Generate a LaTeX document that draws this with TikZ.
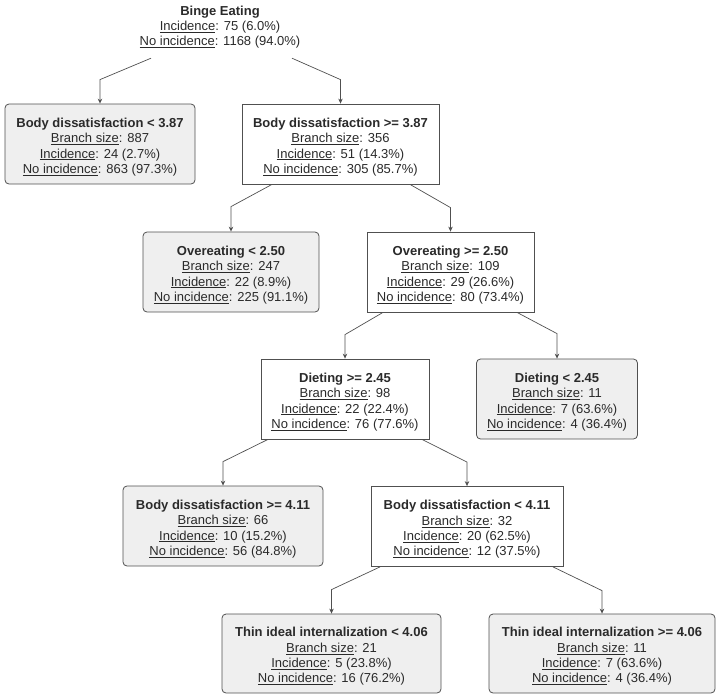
\documentclass[tikz,border=0pt]{standalone}
\usepackage{fontspec}
\setmainfont{Liberation Sans}
\usetikzlibrary{arrows.meta,calc}
\definecolor{txt}{HTML}{2A2A2A}
\definecolor{edgec}{HTML}{505050}
\definecolor{leaf}{HTML}{EFEFEF}
\newcommand{\udl}[1]{\underline{#1}}
\newcommand{\ttl}[1]{\rule{0pt}{15.5pt}\textbf{#1}}
\tikzset{
  box/.style={draw=edgec, line width=0.8pt, text=txt, align=center,
    font=\fontsize{13}{15.3}\selectfont, inner sep=0pt, minimum height=80pt},
  leafbox/.style={box, fill=leaf, rounded corners=4pt},
  innerbox/.style={box, fill=white},
  conn/.style={draw=edgec, line width=0.7pt, -{Stealth[length=5pt,width=4.5pt]}},
}
\begin{document}
\begin{tikzpicture}[x=1pt,y=-1pt]
\useasboundingbox (0,0) rectangle (721,699);
\node[text=txt, align=center, font=\fontsize{13}{15.3}\selectfont, inner sep=0pt, minimum height=62pt] (root) at (220,27)
  {\textbf{Binge Eating}\\\udl{Incidence}: 75 (6.0\%)\\\udl{No incidence}: 1168 (94.0\%)};

\node[leafbox, minimum width=190pt] (b1) at (100,144)
  {\ttl{Body dissatisfaction < 3.87}\\\udl{Branch size}: 887\\\udl{Incidence}: 24 (2.7\%)\\\udl{No incidence}: 863 (97.3\%)};
\node[innerbox, minimum width=197pt] (b2) at (340.5,144)
  {\ttl{Body dissatisfaction >= 3.87}\\\udl{Branch size}: 356\\\udl{Incidence}: 51 (14.3\%)\\\udl{No incidence}: 305 (85.7\%)};
\node[leafbox, minimum width=176pt] (b3) at (231,272)
  {\ttl{Overeating < 2.50}\\\udl{Branch size}: 247\\\udl{Incidence}: 22 (8.9\%)\\\udl{No incidence}: 225 (91.1\%)};
\node[innerbox, minimum width=167pt] (b4) at (450.5,272)
  {\ttl{Overeating >= 2.50}\\\udl{Branch size}: 109\\\udl{Incidence}: 29 (26.6\%)\\\udl{No incidence}: 80 (73.4\%)};
\node[innerbox, minimum width=168pt] (b5) at (345,399)
  {\ttl{Dieting >= 2.45}\\\udl{Branch size}: 98\\\udl{Incidence}: 22 (22.4\%)\\\udl{No incidence}: 76 (77.6\%)};
\node[leafbox, minimum width=161pt] (b6) at (557,399)
  {\ttl{Dieting < 2.45}\\\udl{Branch size}: 11\\\udl{Incidence}: 7 (63.6\%)\\\udl{No incidence}: 4 (36.4\%)};
\node[leafbox, minimum width=200pt] (b7) at (223,526)
  {\ttl{Body dissatisfaction >= 4.11}\\\udl{Branch size}: 66\\\udl{Incidence}: 10 (15.2\%)\\\udl{No incidence}: 56 (84.8\%)};
\node[innerbox, minimum width=192pt] (b8) at (467,526.5)
  {\ttl{Body dissatisfaction < 4.11}\\\udl{Branch size}: 32\\\udl{Incidence}: 20 (62.5\%)\\\udl{No incidence}: 12 (37.5\%)};
\node[leafbox, minimum width=219pt, minimum height=79pt] (b9) at (331.5,653.5)
  {\ttl{Thin ideal internalization < 4.06}\\\udl{Branch size}: 21\\\udl{Incidence}: 5 (23.8\%)\\\udl{No incidence}: 16 (76.2\%)};
\node[leafbox, minimum width=226pt, minimum height=79pt] (b10) at (602,653.5)
  {\ttl{Thin ideal internalization >= 4.06}\\\udl{Branch size}: 11\\\udl{Incidence}: 7 (63.6\%)\\\udl{No incidence}: 4 (36.4\%)};

\draw[conn] ([xshift=-69pt]root.south) -- ([yshift=24pt]b1.north) -- (b1.north);
\draw[conn] ([xshift=72pt]root.south) -- ([yshift=24pt]b2.north) -- (b2.north);
\draw[conn] ([xshift=-68.5pt]b2.south) -- ([yshift=25pt]b3.north) -- (b3.north);
\draw[conn] ([xshift=69.5pt]b2.south) -- ([yshift=24pt]b4.north) -- (b4.north);
\draw[conn] ([xshift=-67.5pt]b4.south) -- ([yshift=24pt]b5.north) -- (b5.north);
\draw[conn] ([xshift=66.5pt]b4.south) -- ([yshift=25pt]b6.north) -- (b6.north);
\draw[conn] ([xshift=-77pt]b5.south) -- ([yshift=24pt]b7.north) -- (b7.north);
\draw[conn] ([xshift=77pt]b5.south) -- ([yshift=24pt]b8.north) -- (b8.north);
\draw[conn] ([xshift=-87pt]b8.south) -- ([yshift=24pt]b9.north) -- (b9.north);
\draw[conn] ([xshift=86pt]b8.south) -- ([yshift=23pt]b10.north) -- (b10.north);
\end{tikzpicture}
\end{document}
